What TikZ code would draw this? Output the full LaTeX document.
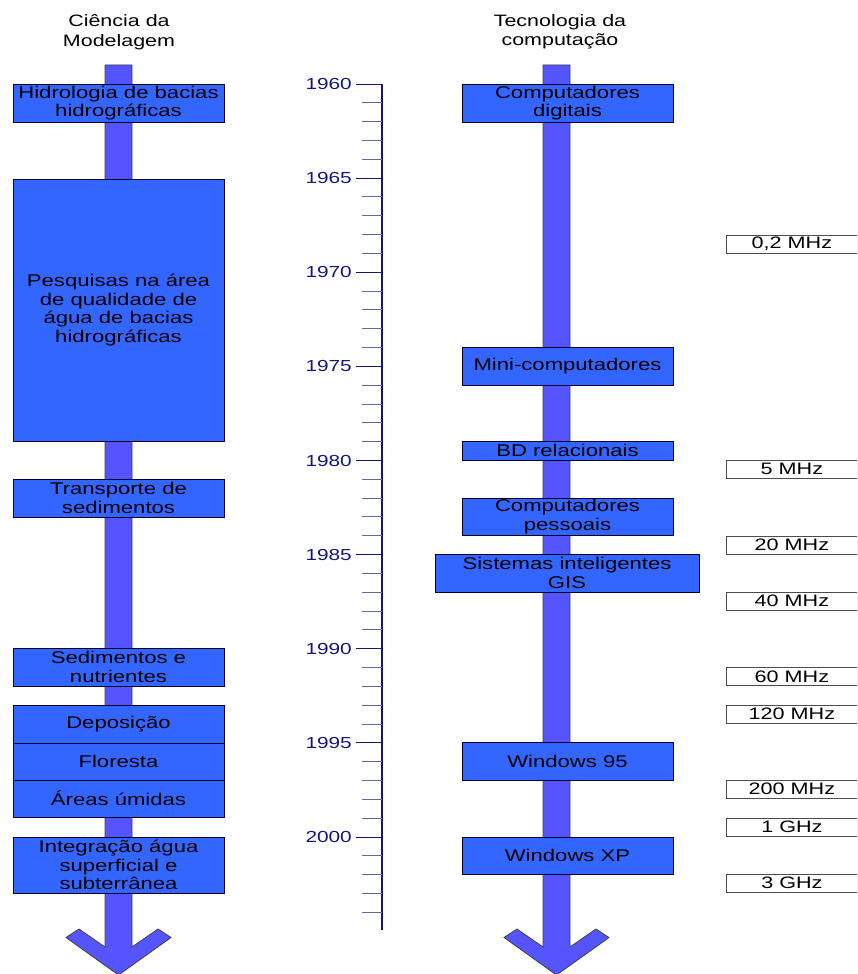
\documentclass[tikz,border=0pt]{standalone}
\usepackage{fontspec}
\setmainfont[FakeStretch=1.3]{Liberation Sans}
\definecolor{boxblue}{HTML}{3366FF}
\definecolor{shaftblue}{HTML}{5555FF}
\definecolor{axiscol}{RGB}{20,20,130}
\definecolor{minorcol}{RGB}{100,100,170}
\begin{document}
\begin{tikzpicture}[x=1pt,y=-1pt,
  evbox/.style={draw=black!85!blue, line width=0.9pt, fill=boxblue, inner sep=0pt,
    align=center, font=\fontsize{17}{18.5}\selectfont, minimum width=211pt},
  freqbox/.style={draw=black!70, line width=0.8pt, fill=white, inner sep=0pt,
    anchor=west, minimum width=131pt, minimum height=18pt, font=\fontsize{16.6}{17}\selectfont},
  titlelbl/.style={align=center, inner sep=0pt, font=\fontsize{16.5}{19.5}\selectfont},
  yearlbl/.style={anchor=east, inner sep=0pt, text=axiscol, font=\fontsize{16}{17}\selectfont},
  shaft/.style={draw=black!75, line width=0.8pt, fill=shaftblue, line join=miter}
]
\path[use as bounding box] (0,0) rectangle (857,974);
\clip (0,0) rectangle (857,974);

% titles
\node[titlelbl] (tleft) at (119,32) {Ciência da\\Modelagem};
\node[titlelbl] (tright) at (560,32) {Tecnologia da\\computação};

% shafts with arrow heads
\draw[shaft] (105,65) -- (132,65) -- (132,947) -- (158,929) -- (171,937.5) -- (118.5,975)
  -- (66,937.5) -- (79,929) -- (105,947) -- cycle;
\draw[shaft] (543,65) -- (570,65) -- (570,947) -- (596,929) -- (609,937.5) -- (556.5,975)
  -- (504,937.5) -- (517,929) -- (543,947) -- cycle;

% left column
\node[evbox, minimum height=38pt] (h1) at (118.5,103) {Hidrologia de bacias\\hidrográficas};
\node[evbox, minimum height=262pt] (h2) at (118.5,310) {Pesquisas na área\\de qualidade de\\água de bacias\\hidrográficas};
\node[evbox, minimum height=38pt] (h3) at (118.5,498) {Transporte de\\sedimentos};
\node[evbox, minimum height=38pt] (h4) at (118.5,667) {Sedimentos e\\nutrientes};
\node[evbox, minimum height=38pt] (h5) at (118.5,724) {Deposição};
\node[evbox, minimum height=37pt] (h6) at (118.5,761.5) {Floresta};
\node[evbox, minimum height=37pt] (h7) at (118.5,798.5) {Áreas úmidas};
\node[evbox, minimum height=56pt] (h8) at (118.5,865) {Integração água\\superficial e\\subterrânea};

% right column
\node[evbox, minimum height=38pt] (r1) at (567.5,103) {Computadores\\digitais};
\node[evbox, minimum height=38pt] (r2) at (567.5,366) {Mini-computadores};
\node[evbox, minimum height=19pt] (r3) at (567.5,450.5) {BD relacionais};
\node[evbox, minimum height=37pt] (r4) at (567.5,516.5) {Computadores\\pessoais};
\node[evbox, minimum height=38pt, minimum width=264pt] (r5) at (567,573) {Sistemas inteligentes\\GIS};
\node[evbox, minimum height=38pt] (r6) at (567.5,761) {Windows 95};
\node[evbox, minimum height=37pt] (r7) at (567.5,855.5) {Windows XP};

% time axis
\draw[axiscol, line width=1.3pt] (382,84) -- (382,930);
\foreach \i in {0,...,44}{
  \pgfmathsetmacro\yy{84+\i*18.825}
  \pgfmathtruncatemacro\m{mod(\i,5)}
  \ifnum\m=0
    \pgfmathtruncatemacro\yr{1960+\i}
    \draw[axiscol, line width=1pt] (356,\yy) -- (382,\yy);
    \node[yearlbl] (y\yr) at (352,\yy) {\yr};
  \else
    \draw[minorcol, line width=1pt] (362,\yy) -- (382,\yy);
  \fi
}

% clock speeds
\node[freqbox] (f1) at (726,244) {0,2 MHz};
\node[freqbox] (f2) at (726,469) {5 MHz};
\node[freqbox] (f3) at (726,545) {20 MHz};
\node[freqbox] (f4) at (726,601) {40 MHz};
\node[freqbox] (f5) at (726,676.5) {60 MHz};
\node[freqbox] (f6) at (726,714) {120 MHz};
\node[freqbox] (f7) at (726,789) {200 MHz};
\node[freqbox] (f8) at (726,827) {1 GHz};
\node[freqbox] (f9) at (726,883) {3 GHz};
\end{tikzpicture}
\end{document}
